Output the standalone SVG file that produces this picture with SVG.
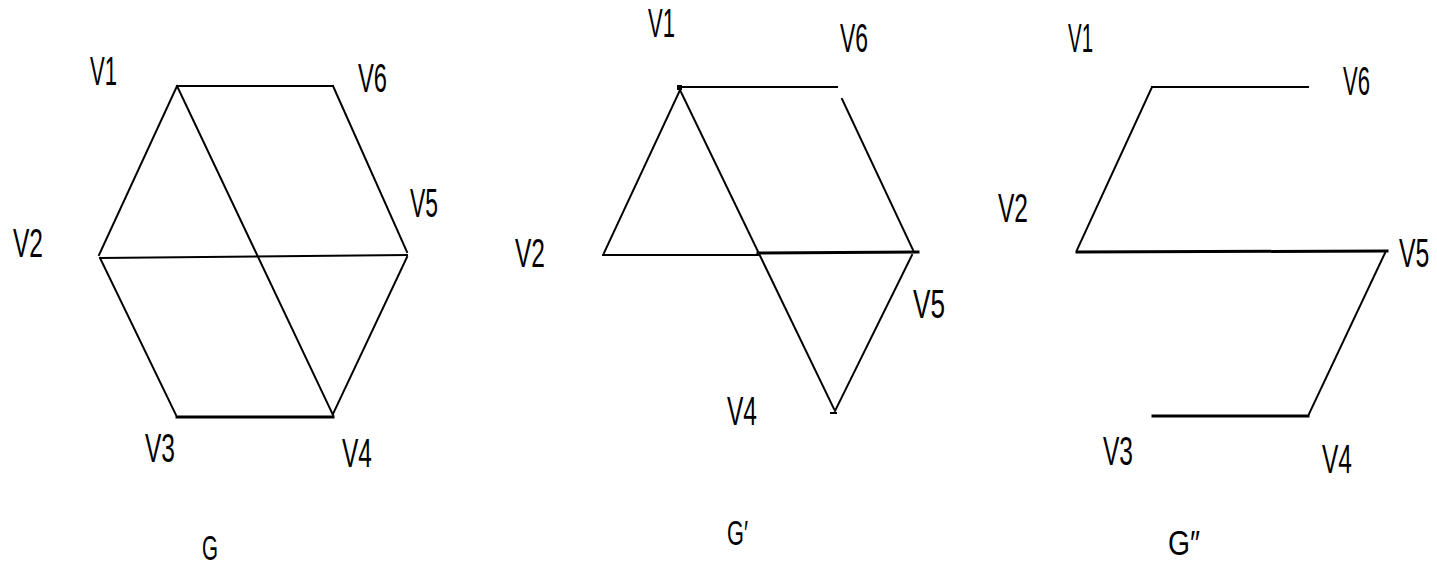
<svg xmlns="http://www.w3.org/2000/svg" width="1437" height="565" viewBox="0 0 1437 565">
<style>
.e{stroke:#000;stroke-width:2;fill:none;stroke-linecap:square}
.t{stroke-width:3}
.l{font-family:"Liberation Sans",Arial,sans-serif;font-size:40px;fill:#000}
.g{font-family:"Liberation Sans",Arial,sans-serif;font-size:35px;fill:#000}
</style>
<rect width="1437" height="565" fill="#fff"/>
<g id="edges">
<line class="e" x1="177" y1="86" x2="333" y2="86"/>
<line class="e" x1="177" y1="86" x2="99" y2="255"/>
<line class="e" x1="177" y1="86" x2="333" y2="415"/>
<line class="e" x1="333" y1="86" x2="407" y2="252"/>
<line class="e" x1="100" y1="258" x2="407" y2="255"/>
<line class="e" x1="100" y1="258" x2="176" y2="415"/>
<line class="e" x1="407" y1="257" x2="333" y2="414"/>
<line class="e t" x1="177" y1="417" x2="333" y2="417"/>
<line class="e" x1="680" y1="87" x2="837" y2="87"/>
<rect x="677" y="85" width="5" height="5" fill="#000"/>
<line class="e" x1="680" y1="90" x2="604" y2="253"/>
<line class="e" x1="680" y1="90" x2="834" y2="409"/>
<line class="e" x1="842" y1="99" x2="913" y2="250"/>
<line class="e" x1="603" y1="255" x2="758" y2="255"/>
<line class="e t" x1="758" y1="253" x2="918" y2="252"/>
<line class="e" x1="912" y1="255" x2="835" y2="411"/>
<line class="e" x1="831" y1="413" x2="836" y2="413"/>
<line class="e" x1="1152" y1="87" x2="1308" y2="87"/>
<line class="e" x1="1152" y1="87" x2="1077" y2="250"/>
<line class="e t" x1="1077" y1="252" x2="1387" y2="251"/>
<line class="e" x1="1385" y1="253" x2="1309" y2="414"/>
<line class="e t" x1="1153" y1="416" x2="1308" y2="416"/>
</g>
<g id="graph-G">
<text class="l" x="90" y="85" textLength="27" lengthAdjust="spacingAndGlyphs">V1</text>
<text class="l" x="358" y="92" textLength="29" lengthAdjust="spacingAndGlyphs">V6</text>
<text class="l" x="410" y="217" textLength="28" lengthAdjust="spacingAndGlyphs">V5</text>
<text class="l" x="13" y="257" textLength="30" lengthAdjust="spacingAndGlyphs">V2</text>
<text class="l" x="145" y="462" textLength="30" lengthAdjust="spacingAndGlyphs">V3</text>
<text class="l" x="342" y="467" textLength="30" lengthAdjust="spacingAndGlyphs">V4</text>
<text class="g" x="202" y="560" textLength="16" lengthAdjust="spacingAndGlyphs">G</text>
</g>
<g id="graph-G1">
<text class="l" x="648" y="37" textLength="27" lengthAdjust="spacingAndGlyphs">V1</text>
<text class="l" x="840" y="52" textLength="28" lengthAdjust="spacingAndGlyphs">V6</text>
<text class="l" x="515" y="267" textLength="30" lengthAdjust="spacingAndGlyphs">V2</text>
<text class="l" x="913" y="318" textLength="32" lengthAdjust="spacingAndGlyphs">V5</text>
<text class="l" x="727" y="425" textLength="30" lengthAdjust="spacingAndGlyphs">V4</text>
<text class="g" x="727" y="545" textLength="21" lengthAdjust="spacingAndGlyphs">G′</text>
</g>
<g id="graph-G2">
<text class="l" x="1068" y="52" textLength="25" lengthAdjust="spacingAndGlyphs">V1</text>
<text class="l" x="1343" y="95" textLength="27" lengthAdjust="spacingAndGlyphs">V6</text>
<text class="l" x="998" y="222" textLength="30" lengthAdjust="spacingAndGlyphs">V2</text>
<text class="l" transform="translate(1399,267) scale(0.62,1)" x="0" y="0">V5</text>
<text class="l" x="1103" y="465" textLength="30" lengthAdjust="spacingAndGlyphs">V3</text>
<text class="l" x="1322" y="473" textLength="30" lengthAdjust="spacingAndGlyphs">V4</text>
<text class="g" x="1168" y="555" textLength="32" lengthAdjust="spacingAndGlyphs">G″</text>
</g>
</svg>
